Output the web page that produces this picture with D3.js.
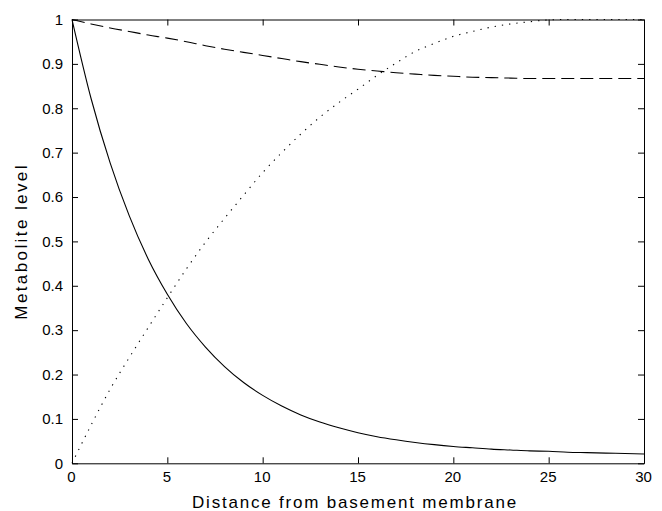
<!DOCTYPE html>
<html>
<head>
<meta charset="utf-8">
<script src="https://cdn.jsdelivr.net/npm/d3@7"></script>
<style>
  body { margin: 0; background: #fff; }
  svg { display: block; }
</style>
</head>
<body>
<div id="chart"></div>
<script>
// distance values (x) and the three metabolite curves
const distance = d3.range(0, 31);
const solidLevel = [1.000, 0.822, 0.677, 0.558, 0.460, 0.381, 0.315, 0.262, 0.218, 0.182,
  0.153, 0.129, 0.109, 0.093, 0.080, 0.069, 0.060, 0.053, 0.047, 0.042,
  0.038, 0.035, 0.032, 0.030, 0.028, 0.027, 0.025, 0.024, 0.023, 0.022, 0.021];
const dashedLevel = [1.000, 0.990, 0.981, 0.973, 0.965, 0.958, 0.950, 0.941, 0.933, 0.926,
  0.919, 0.912, 0.905, 0.899, 0.893, 0.888, 0.884, 0.880, 0.877, 0.874,
  0.872, 0.870, 0.869, 0.868, 0.867, 0.867, 0.867, 0.867, 0.867, 0.867, 0.867];
const dottedLevel = [0.000, 0.086, 0.167, 0.238, 0.306, 0.373, 0.438, 0.498, 0.552, 0.604,
  0.655, 0.700, 0.742, 0.780, 0.813, 0.843, 0.874, 0.902, 0.928, 0.946,
  0.962, 0.973, 0.983, 0.990, 0.995, 0.999, 1.000, 1.000, 1.000, 1.000, 1.000];

const xTicks = [0, 5, 10, 15, 20, 25, 30];
const yTicks = [0, 0.1, 0.2, 0.3, 0.4, 0.5, 0.6, 0.7, 0.8, 0.9, 1];

// taille
const width = 662;
const height = 511;
const plotLeft = 72, plotRight = 644, plotTop = 19.5, plotBottom = 463.3;
const font = '"Liberation Sans", Arial, Helvetica, sans-serif';

const svg = d3.select('#chart').append('svg')
  .attr('width', width)
  .attr('height', height);

svg.append('rect').attr('width', width).attr('height', height).attr('fill', '#fff');

const x = d3.scaleLinear().domain([0, 30]).range([plotLeft, plotRight]);
const y = d3.scaleLinear().domain([0, 1]).range([plotBottom, plotTop]);

// courbes
const line = d3.line()
  .x(d => x(d[0]))
  .y(d => y(d[1]))
  .curve(d3.curveMonotoneX);

const curves = [
  { values: solidLevel, dash: null },
  { values: dashedLevel, dash: '13,6' },
  { values: dottedLevel, dash: '1.3,6' }
];

svg.selectAll('.curve')
  .data(curves)
  .enter().append('path')
  .attr('class', 'curve')
  .attr('d', c => line(distance.map((d, i) => [d, c.values[i]])))
  .attr('fill', 'none')
  .attr('stroke', '#000')
  .attr('stroke-width', 1.1)
  .attr('stroke-dasharray', c => c.dash);

// axes (ticks vers l'intérieur, boîte complète)
function styleAxis(g) {
  g.selectAll('path, line').attr('stroke', '#000').attr('stroke-width', 1);
  g.selectAll('text')
    .attr('fill', '#000')
    .style('font-family', font)
    .style('font-size', '15px');
}

svg.append('g')
  .attr('transform', `translate(0,${plotBottom})`)
  .call(d3.axisBottom(x).tickValues(xTicks).tickSizeInner(-6).tickSizeOuter(0).tickPadding(8))
  .call(styleAxis)
  .selectAll('text').attr('x', -1);

svg.append('g')
  .attr('transform', `translate(0,${plotTop})`)
  .call(d3.axisTop(x).tickValues(xTicks).tickSizeInner(-6).tickSizeOuter(0).tickFormat(''))
  .call(styleAxis);

svg.append('g')
  .attr('transform', `translate(${plotLeft},0)`)
  .call(d3.axisLeft(y).tickValues(yTicks).tickSizeInner(-6).tickSizeOuter(0).tickPadding(9)
    .tickFormat(d => String(d)))
  .call(styleAxis);

svg.append('g')
  .attr('transform', `translate(${plotRight},0)`)
  .call(d3.axisRight(y).tickValues(yTicks).tickSizeInner(-6).tickSizeOuter(0).tickFormat(''))
  .call(styleAxis);

// titres des axes
svg.append('text')
  .attr('x', 355)
  .attr('y', 507.5)
  .attr('text-anchor', 'middle')
  .style('font-family', font)
  .style('font-size', '17px')
  .style('letter-spacing', '1.8px')
  .text('Distance from basement membrane');

svg.append('text')
  .attr('transform', `translate(27,${(plotTop + plotBottom) / 2}) rotate(-90)`)
  .attr('text-anchor', 'middle')
  .style('font-family', font)
  .style('font-size', '17px')
  .style('letter-spacing', '2.4px')
  .text('Metabolite level');
</script>
</body>
</html>
